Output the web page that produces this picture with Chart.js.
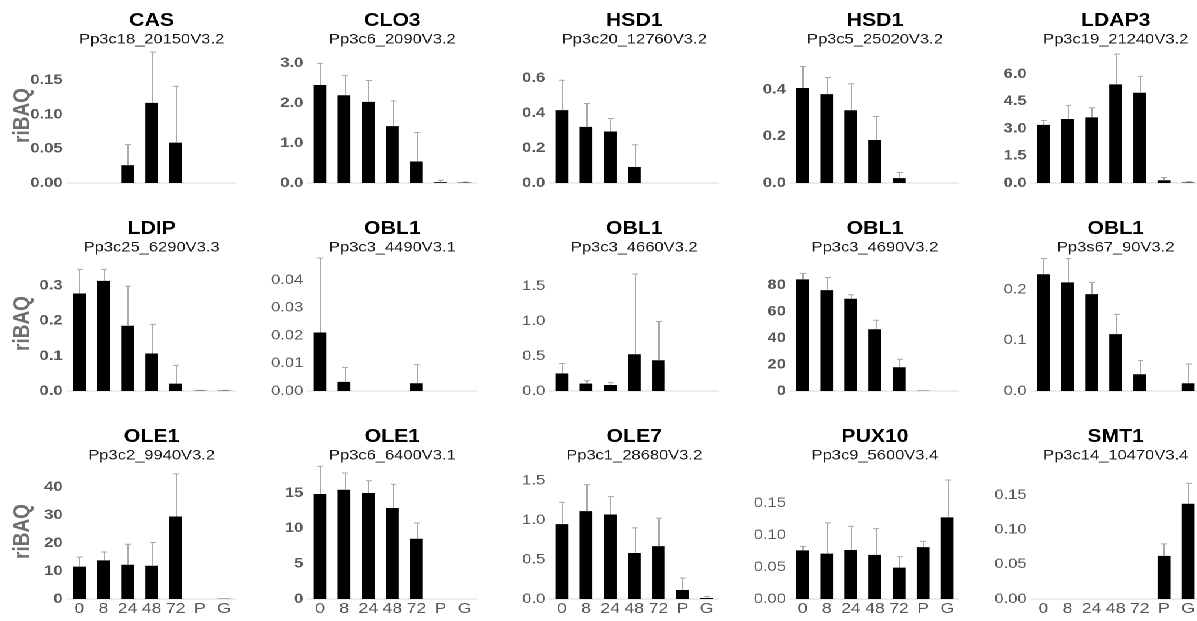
<!DOCTYPE html>
<html>
<head>
<meta charset="utf-8">
<script src="https://cdn.jsdelivr.net/npm/chart.js@4.4.0/dist/chart.umd.min.js"></script>
<style>
  html, body { margin: 0; padding: 0; background: #fff; overflow: hidden; }
  /* the original figure is stretched sideways, so the whole grid is too */
  #fig { position: absolute; left: 0; top: 0; width: 1015px; height: 621px; transform: scaleX(1.18); transform-origin: 0 0; }
  .panel { position: absolute; }
</style>
</head>
<body>
<div id="fig"></div>
<script>
// x categories (hours of treatment, then P and G)
const categories = ['0', '8', '24', '48', '72', 'P', 'G'];

const genes = ['CAS', 'CLO3', 'HSD1', 'HSD1', 'LDAP3',
               'LDIP', 'OBL1', 'OBL1', 'OBL1', 'OBL1',
               'OLE1', 'OLE1', 'OLE7', 'PUX10', 'SMT1'];

const geneIds = ['Pp3c18_20150V3.2', 'Pp3c6_2090V3.2', 'Pp3c20_12760V3.2', 'Pp3c5_25020V3.2', 'Pp3c19_21240V3.2',
                 'Pp3c25_6290V3.3', 'Pp3c3_4490V3.1', 'Pp3c3_4660V3.2', 'Pp3c3_4690V3.2', 'Pp3s67_90V3.2',
                 'Pp3c2_9940V3.2', 'Pp3c6_6400V3.1', 'Pp3c1_28680V3.2', 'Pp3c9_5600V3.4', 'Pp3c14_10470V3.4'];

// mean riBAQ per category, one row per panel
const means = [
  [0, 0, 0.026, 0.117, 0.059, 0, 0],
  [2.455, 2.20, 2.035, 1.425, 0.538, 0.02, 0.01],
  [0.418, 0.322, 0.295, 0.092, 0, 0, 0],
  [0.406, 0.380, 0.311, 0.184, 0.021, 0, 0],
  [3.20, 3.52, 3.61, 5.43, 4.97, 0.15, 0.03],
  [0.278, 0.314, 0.186, 0.107, 0.021, 0.001, 0.001],
  [0.0211, 0.0033, 0, 0, 0.0028, 0, 0],
  [0.251, 0.106, 0.086, 0.526, 0.44, 0, 0],
  [84.3, 76.2, 69.7, 46.7, 17.9, 0.2, 0],
  [0.230, 0.214, 0.191, 0.112, 0.033, 0, 0.0152],
  [11.6, 13.8, 12.25, 11.9, 29.5, 0, 0.1],
  [14.85, 15.46, 14.99, 12.87, 8.53, 0, 0],
  [0.948, 1.113, 1.07, 0.582, 0.670, 0.114, 0.013],
  [0.076, 0.071, 0.0766, 0.069, 0.049, 0.081, 0.1275],
  [0, 0, 0, 0, 0, 0.0623, 0.1375]
];

// standard deviation (upper whisker only)
const errors = [
  [0, 0, 0.030, 0.074, 0.082, 0, 0],
  [0.545, 0.49, 0.535, 0.635, 0.728, 0.048, 0.015],
  [0.171, 0.134, 0.075, 0.127, 0, 0, 0],
  [0.092, 0.071, 0.113, 0.100, 0.024, 0, 0],
  [0.24, 0.75, 0.53, 1.66, 0.90, 0.15, 0.05],
  [0.069, 0.033, 0.113, 0.083, 0.052, 0.001, 0.001],
  [0.0269, 0.0052, 0, 0, 0.0067, 0, 0],
  [0.142, 0.043, 0.034, 1.146, 0.554, 0, 0],
  [4.6, 9.6, 3.0, 6.8, 6.1, 0, 0],
  [0.031, 0.047, 0.023, 0.039, 0.027, 0, 0.038],
  [3.4, 3.0, 7.35, 8.3, 15.25, 0, 0],
  [3.91, 2.36, 1.74, 3.34, 2.22, 0, 0],
  [0.278, 0.336, 0.227, 0.319, 0.354, 0.151, 0.020],
  [0.006, 0.048, 0.037, 0.041, 0.017, 0.009, 0.0585],
  [0, 0, 0, 0, 0, 0.0173, 0.0295]
];

// y tick labels shown on each panel
const yTicks = [
  [0, 0.05, 0.10, 0.15],
  [0, 1, 2, 3],
  [0, 0.2, 0.4, 0.6],
  [0, 0.2, 0.4],
  [0, 1.5, 3, 4.5, 6],
  [0, 0.1, 0.2, 0.3],
  [0, 0.01, 0.02, 0.03, 0.04],
  [0, 0.5, 1, 1.5],
  [0, 20, 40, 60, 80],
  [0, 0.1, 0.2],
  [0, 10, 20, 30, 40],
  [0, 5, 10, 15],
  [0, 0.5, 1, 1.5],
  [0, 0.05, 0.10, 0.15],
  [0, 0.05, 0.10, 0.15]
];
const yMax = [0.197, 3.384, 0.774, 0.577, 7.43, 0.385, 0.0487, 1.93, 102, 0.266, 48.3, 19.1, 1.71, 0.211, 0.195];
const decimals = [2, 1, 1, 1, 1, 1, 2, 1, 0, 1, 0, 0, 1, 2, 2];
const boldTicks = [true, true, true, true, true, true, false, false, true, false, true, true, false, false, false];

const FONT = "'Liberation Sans', Arial, sans-serif";
Chart.defaults.font.family = FONT;

const colStart = [56.8, 261.3, 465.7, 669.6, 873.9];
const rowTop = [0, 208, 416];
const BAND = 143;      // plot width
const PLOT_TOP = 48;   // space for gene name + id
const PLOT_BOTTOM = 183;

// upper error whiskers with a small cap
const errorBars = {
  id: 'errorBars',
  afterDatasetsDraw(chart) {
    const ctx = chart.ctx;
    const y = chart.scales.y;
    const meta = chart.getDatasetMeta(0);
    const errs = chart.data.datasets[0].errors;
    const vals = chart.data.datasets[0].data;
    ctx.save();
    ctx.strokeStyle = '#a8a8a8';
    ctx.lineWidth = 1;
    meta.data.forEach((bar, i) => {
      if (!errs[i]) return;
      const x = Math.round(bar.x) + 0.5;
      const top = y.getPixelForValue(vals[i] + errs[i]);
      ctx.beginPath();
      ctx.moveTo(x, bar.y);
      ctx.lineTo(x, top);
      ctx.moveTo(x - 2.5, top);
      ctx.lineTo(x + 2.5, top);
      ctx.stroke();
    });
    ctx.restore();
  }
};

// gene name and id, centred over the plot area
const panelTitle = {
  id: 'panelTitle',
  afterDraw(chart, args, opts) {
    const ctx = chart.ctx;
    const cx = (chart.chartArea.left + chart.chartArea.right) / 2;
    ctx.save();
    ctx.textAlign = 'center';
    ctx.textBaseline = 'alphabetic';
    ctx.fillStyle = '#000';
    ctx.font = 'bold 18px ' + FONT;
    ctx.fillText(opts.gene, cx, 26);
    ctx.fillStyle = '#1a1a1a';
    ctx.font = '14px ' + FONT;
    ctx.fillText(opts.id, cx, 43.5);
    ctx.restore();
  }
};

const fig = document.getElementById('fig');

genes.forEach((gene, k) => {
  const r = Math.floor(k / 5);
  const c = k % 5;
  const axisW = c === 0 ? 57 : 50;
  const xH = r === 2 ? 22 : 14;

  const wrap = document.createElement('div');
  wrap.className = 'panel';
  wrap.style.left = (colStart[c] - axisW) + 'px';
  wrap.style.top = rowTop[r] + 'px';
  wrap.style.width = (axisW + BAND) + 'px';
  wrap.style.height = (PLOT_BOTTOM + xH) + 'px';
  const canvas = document.createElement('canvas');
  wrap.appendChild(canvas);
  fig.appendChild(wrap);

  new Chart(canvas, {
    type: 'bar',
    data: {
      labels: categories,
      datasets: [{
        data: means[k],
        errors: errors[k],
        backgroundColor: '#000',
        borderWidth: 0,
        barPercentage: 0.53,
        categoryPercentage: 1
      }]
    },
    options: {
      responsive: true,
      maintainAspectRatio: false,
      animation: false,
      devicePixelRatio: 2,
      layout: { padding: { top: PLOT_TOP, left: 0, right: 0, bottom: 0 } },
      plugins: {
        legend: { display: false },
        tooltip: { enabled: false },
        panelTitle: { gene: gene, id: geneIds[k] }
      },
      scales: {
        x: {
          offset: true,
          grid: { display: false, drawTicks: false },
          border: { display: true, color: '#d9d9d9', width: 1 },
          ticks: {
            display: r === 2,
            color: '#595959',
            font: { size: 15 },
            padding: 1,
            maxRotation: 0,
            autoSkip: false
          },
          afterFit: s => { s.height = xH; }
        },
        y: {
          min: 0,
          max: yMax[k],
          grid: { display: false, drawTicks: false },
          border: { display: false },
          afterBuildTicks: s => { s.ticks = yTicks[k].map(v => ({ value: v })); },
          afterFit: s => { s.width = axisW; },
          ticks: {
            color: '#595959',
            padding: 4,
            font: { size: 14, weight: boldTicks[k] ? 'bold' : 'normal' },
            callback: v => Number(v).toFixed(decimals[k])
          },
          title: {
            display: c === 0,
            text: 'riBAQ',
            color: '#6e6e6e',
            font: { size: 19, weight: 'bold' },
            padding: { top: 8, bottom: 0 }
          }
        }
      }
    },
    plugins: [errorBars, panelTitle]
  });
});
</script>
</body>
</html>
